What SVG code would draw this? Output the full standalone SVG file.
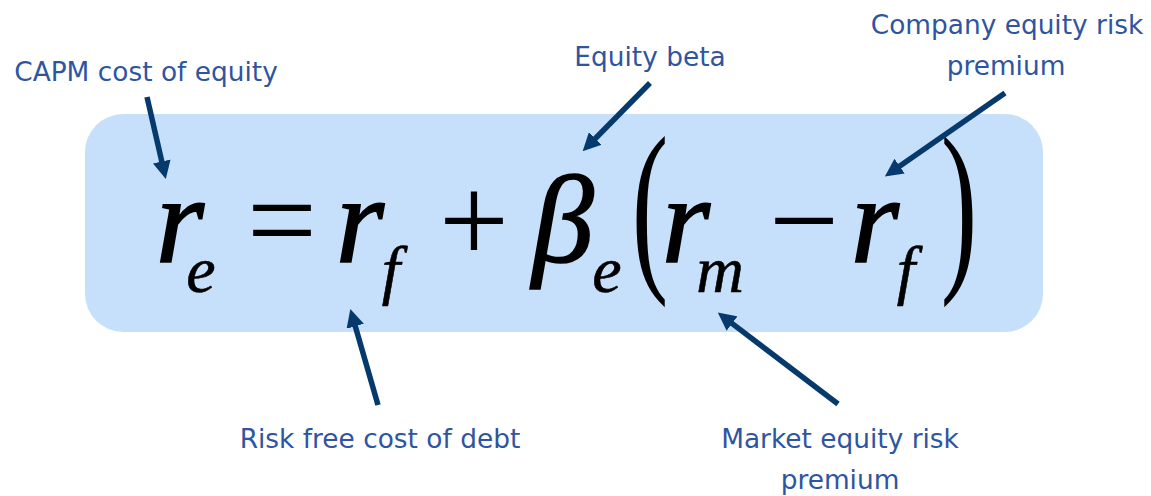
<svg xmlns="http://www.w3.org/2000/svg" width="1151" height="496" viewBox="0 0 1151 496">
<style>
.lbl{font-family:"DejaVu Sans","Liberation Sans",sans-serif;font-size:26.4px;fill:#2F55A0;text-anchor:middle}
.m{font-family:"Liberation Serif","Times New Roman",serif;font-style:italic;fill:#000;text-anchor:middle}
.big{font-size:124px;stroke:#000;stroke-width:1.6px}
.sub{font-size:66px;stroke:#000;stroke-width:0.6px}
.op{font-family:"Liberation Serif","Times New Roman",serif;font-size:124px;fill:#000;text-anchor:middle}
.par{font-family:"Liberation Serif","Times New Roman",serif;font-size:189px;fill:#000;text-anchor:middle}
.arr{stroke:#073A6C;stroke-width:5.5;fill:none;marker-end:url(#ah)}
</style>
<defs>
<marker id="ah" viewBox="0 -9 18 18" markerWidth="18" markerHeight="18" refX="1" refY="0" orient="auto" markerUnits="userSpaceOnUse">
<path d="M0,-9 L18,0 L0,9 z" fill="#073A6C"/>
</marker>
</defs>
<g id="equation">
<rect x="85" y="114" width="958" height="218" rx="38" ry="38" fill="#C6E0FB"/>
<text class="m big" x="180" y="262">r</text>
<text class="m sub" x="201" y="292">e</text>
<text class="op" x="282" y="262">=</text>
<text class="m big" x="360" y="262">r</text>
<text class="m sub" x="391" y="292">f</text>
<text class="op" x="474" y="262">+</text>
<text class="m big" x="563" y="262">β</text>
<text class="m sub" x="607" y="292">e</text>
<text class="par" transform="translate(650,267) scale(0.58,1)" x="0" y="0">(</text>
<text class="m big" x="686" y="262">r</text>
<text class="m sub" x="720" y="292">m</text>
<text class="op" x="804" y="262">−</text>
<text class="m big" x="875" y="262">r</text>
<text class="m sub" x="906" y="292">f</text>
<text class="par" transform="translate(959,267) scale(0.58,1)" x="0" y="0">)</text>
</g>
<g id="label-capm"><text class="lbl" x="146" y="81">CAPM cost of equity</text></g>
<g id="label-beta"><text class="lbl" x="650" y="66">Equity beta</text></g>
<g id="label-company"><text class="lbl" x="1007" y="34">Company equity risk</text><text class="lbl" x="1006" y="75">premium</text></g>
<g id="label-riskfree"><text class="lbl" x="380" y="448">Risk free cost of debt</text></g>
<g id="label-market"><text class="lbl" x="840" y="448">Market equity risk</text><text class="lbl" x="840" y="489">premium</text></g>
<g id="connectors">
<line class="arr" x1="147" y1="97" x2="162" y2="162.4"/>
<line class="arr" x1="650" y1="83" x2="594.6" y2="139.2"/>
<line class="arr" x1="1005" y1="93" x2="898.8" y2="166.7"/>
<line class="arr" x1="378" y1="405" x2="355" y2="325.3"/>
<line class="arr" x1="838" y1="404" x2="731.3" y2="322.9"/>
</g>
</svg>
